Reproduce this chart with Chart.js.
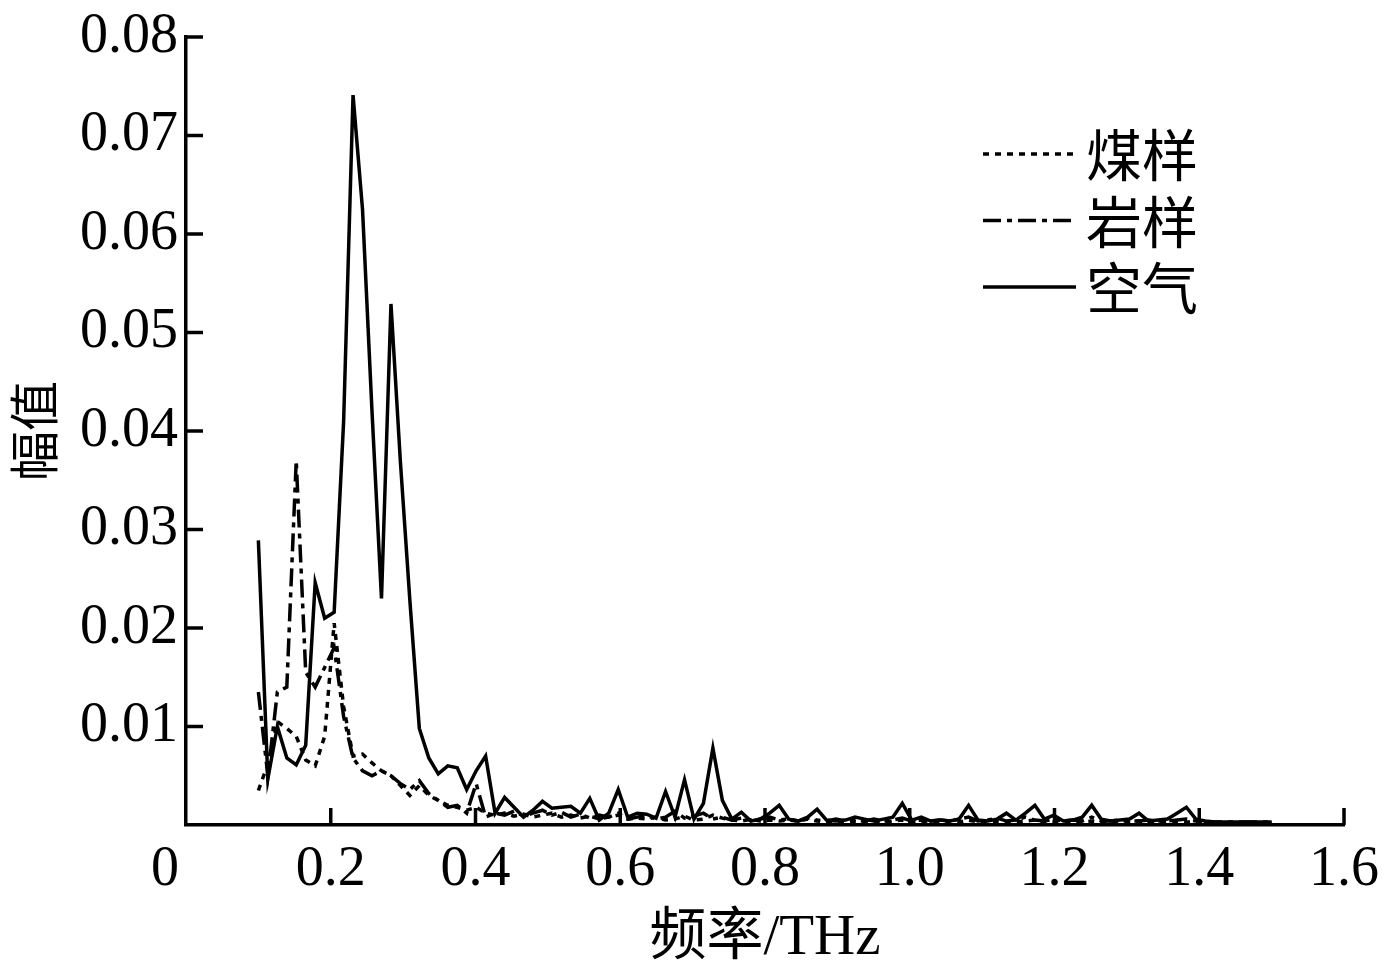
<!DOCTYPE html>
<html>
<head>
<meta charset="utf-8">
<script src="https://cdn.jsdelivr.net/npm/chart.js@4"></script>
<style>
html,body{margin:0;padding:0;background:#fff;}
#wrap{width:1384px;height:975px;}
</style>
</head>
<body>
<div id="wrap"><canvas id="c" width="1384" height="975"></canvas></div>
<script>
// Frequency (THz)
const freq = [0.1000,0.1131,0.1262,0.1393,0.1523,0.1654,0.1785,0.1916,0.2047,0.2178,
0.2308,0.2439,0.2570,0.2701,0.2832,0.2963,0.3093,0.3224,0.3355,0.3486,
0.3617,0.3748,0.3878,0.4009,0.4140,0.4271,0.4402,0.4533,0.4664,0.4794,
0.4925,0.5056,0.5187,0.5318,0.5449,0.5579,0.5710,0.5841,0.5972,0.6103,
0.6234,0.6364,0.6495,0.6626,0.6757,0.6888,0.7019,0.7149,0.7280,0.7411,
0.7542,0.7673,0.7804,0.7935,0.8065,0.8196,0.8327,0.8458,0.8589,0.8720,
0.8850,0.8981,0.9112,0.9243,0.9374,0.9505,0.9636,0.9766,0.9897,1.0028,
1.0159,1.0290,1.0421,1.0551,1.0682,1.0813,1.0944,1.1075,1.1206,1.1336,
1.1467,1.1598,1.1729,1.1860,1.1991,1.2121,1.2252,1.2383,1.2514,1.2645,
1.2776,1.2907,1.3037,1.3168,1.3299,1.3430,1.3561,1.3692,1.3822,1.3953,
1.4084,1.4215,1.4346,1.4477,1.4607,1.4738,1.4869,1.5000];

// 煤样 (coal sample)
const coal = [0.0035,0.0062,0.0105,0.0098,0.0090,0.0066,0.0060,0.0090,0.0205,0.0120,
0.0070,0.0072,0.0063,0.0055,0.0050,0.0040,0.0030,0.0040,0.0030,0.0025,
0.0020,0.0018,0.0015,0.0018,0.0012,0.0010,0.0012,0.0009,0.0011,0.0008,
0.0010,0.0012,0.0008,0.0010,0.0007,0.0009,0.0006,0.0008,0.0010,0.0006,
0.0007,0.0006,0.0008,0.0005,0.0006,0.0009,0.0005,0.0006,0.0010,0.0007,
0.0005,0.0004,0.0006,0.0004,0.0005,0.0004,0.0005,0.0004,0.0006,0.0004,
0.0003,0.0004,0.0003,0.0004,0.0003,0.0004,0.0003,0.0004,0.0005,0.0003,
0.0004,0.0003,0.0003,0.0004,0.0003,0.0005,0.0003,0.0003,0.0004,0.0003,
0.0003,0.0004,0.0005,0.0003,0.0003,0.0003,0.0004,0.0003,0.0004,0.0003,
0.0003,0.0003,0.0003,0.0004,0.0003,0.0003,0.0003,0.0004,0.0003,0.0003,
0.0003,0.0002,0.0002,0.0002,0.0002,0.0002,0.0002,0.0002];

// 岩样 (rock sample)
const rock = [0.0135,0.0050,0.0135,0.0140,0.0370,0.0155,0.0140,0.0160,0.0180,0.0110,
0.0068,0.0055,0.0050,0.0055,0.0050,0.0042,0.0036,0.0045,0.0032,0.0025,
0.0018,0.0020,0.0012,0.0042,0.0008,0.0012,0.0010,0.0014,0.0009,0.0012,
0.0015,0.0010,0.0013,0.0008,0.0011,0.0007,0.0010,0.0008,0.0012,0.0006,
0.0008,0.0010,0.0006,0.0008,0.0014,0.0007,0.0009,0.0012,0.0006,0.0008,
0.0005,0.0007,0.0005,0.0006,0.0008,0.0005,0.0006,0.0004,0.0007,0.0005,
0.0004,0.0006,0.0004,0.0005,0.0004,0.0006,0.0004,0.0005,0.0007,0.0004,
0.0005,0.0004,0.0005,0.0004,0.0006,0.0008,0.0004,0.0005,0.0007,0.0004,
0.0005,0.0008,0.0005,0.0004,0.0006,0.0004,0.0005,0.0004,0.0008,0.0004,
0.0004,0.0005,0.0004,0.0004,0.0005,0.0004,0.0004,0.0005,0.0006,0.0004,
0.0003,0.0003,0.0003,0.0003,0.0003,0.0003,0.0003,0.0003];

// 空气 (air)
const air = [0.0289,0.0047,0.0100,0.0068,0.0061,0.0081,0.0246,0.0210,0.0216,0.0410,
0.0741,0.0625,0.0420,0.0230,0.0529,0.0368,0.0228,0.0098,0.0068,0.0052,
0.0060,0.0058,0.0036,0.0055,0.0070,0.0012,0.0028,0.0018,0.0008,0.0015,
0.0024,0.0017,0.0018,0.0019,0.0012,0.0027,0.0005,0.0012,0.0036,0.0008,
0.0012,0.0011,0.0007,0.0034,0.0008,0.0046,0.0006,0.0022,0.0078,0.0025,
0.0006,0.0013,0.0004,0.0006,0.0012,0.0020,0.0006,0.0004,0.0008,0.0016,
0.0005,0.0004,0.0005,0.0008,0.0006,0.0004,0.0006,0.0008,0.0022,0.0005,
0.0008,0.0004,0.0005,0.0004,0.0006,0.0020,0.0005,0.0004,0.0006,0.0012,
0.0005,0.0012,0.0020,0.0006,0.0010,0.0004,0.0005,0.0008,0.0020,0.0006,
0.0004,0.0005,0.0006,0.0012,0.0004,0.0005,0.0006,0.0012,0.0018,0.0006,
0.0004,0.0003,0.0003,0.0003,0.0003,0.0003,0.0003,0.0003];

const seriesNames = ['煤样', '岩样', '空气'];
const xTitle = '频率/THz';
const yTitle = '幅值';

const SERIF = '"Liberation Serif", "Noto Sans CJK SC", serif';
const CJK = '"Noto Sans CJK SC", sans-serif';
const LW = 3.5;

function pairs(vals){ return freq.map((f,i)=>({x:f, y:vals[i]})); }

const inwardTicks = {
  id: 'inwardTicks',
  afterDraw(chart){
    const ctx = chart.ctx, xs = chart.scales.x, ys = chart.scales.y;
    const ca = chart.chartArea;
    ctx.save();
    ctx.strokeStyle = '#000';
    ctx.lineWidth = LW;
    ctx.setLineDash([]);
    xs.ticks.forEach(t=>{
      if (Math.abs(t.value) < 1e-9) return;
      const px = xs.getPixelForValue(t.value);
      ctx.beginPath(); ctx.moveTo(px, ca.bottom); ctx.lineTo(px, ca.bottom - 17); ctx.stroke();
    });
    ys.ticks.forEach(t=>{
      if (Math.abs(t.value) < 1e-9) return;
      const py = ys.getPixelForValue(t.value);
      ctx.beginPath(); ctx.moveTo(ca.left, py); ctx.lineTo(ca.left + 17, py); ctx.stroke();
    });
    ctx.restore();
  }
};

const lineLegend = {
  id: 'lineLegend',
  afterDraw(chart){
    const ctx = chart.ctx;
    ctx.save();
    chart.data.datasets.forEach((ds,i)=>{
      const y = 154 + i*66.5;
      ctx.strokeStyle = ds.borderColor;
      ctx.lineWidth = ds.borderWidth;
      ctx.setLineDash(ds.borderDash || []);
      ctx.beginPath(); ctx.moveTo(983, y); ctx.lineTo(1076, y); ctx.stroke();
      ctx.setLineDash([]);
      ctx.fillStyle = '#000';
      ctx.font = '56px ' + CJK;
      ctx.textBaseline = 'middle';
      ctx.textAlign = 'left';
      ctx.fillText(ds.label, 1086, y + 1);
    });
    ctx.restore();
  }
};

new Chart(document.getElementById('c'), {
  type: 'line',
  data: {
    datasets: [
      {label: seriesNames[0], data: pairs(coal), borderColor:'#000', borderWidth:LW, borderDash:[6,6], pointRadius:0, tension:0, fill:false},
      {label: seriesNames[1], data: pairs(rock), borderColor:'#000', borderWidth:LW, borderDash:[18,6,5,6], pointRadius:0, tension:0, fill:false},
      {label: seriesNames[2], data: pairs(air), borderColor:'#000', borderWidth:LW, borderDash:[], pointRadius:0, tension:0, fill:false}
    ]
  },
  options: {
    responsive: false,
    animation: false,
    layout: {padding: {left: 0, right: 40, top: 37, bottom: 0}},
    plugins: {legend: {display:false}, tooltip: {enabled:false}},
    scales: {
      x: {
        type: 'linear', min: 0, max: 1.6,
        grid: {display: false, drawTicks: false},
        border: {display: true, color: '#000', width: LW},
        ticks: {
          stepSize: 0.2, autoSkip: false, maxRotation: 0, padding: 12,
          color: '#000', font: {family: SERIF, size: 56},
          callback: v => Math.abs(v) < 1e-9 ? '0   ' : v.toFixed(1)
        },
        title: {display: true, text: xTitle, color: '#000', font: {family: SERIF, size: 57, lineHeight: 1.2}, padding: {top: 2, bottom: 2}},
        afterFit: s => { s.height = 150; s.paddingLeft = 0; s.paddingRight = 0; }
      },
      y: {
        type: 'linear', min: 0, max: 0.08,
        grid: {display: false, drawTicks: false},
        border: {display: true, color: '#000', width: LW},
        ticks: {
          stepSize: 0.01, autoSkip: false, padding: 8,
          color: '#000', font: {family: SERIF, size: 56},
          callback: v => Math.abs(v) < 1e-9 ? '' : v.toFixed(2)
        },
        title: {display: true, text: yTitle, color: '#000', font: {family: CJK, size: 50, lineHeight: 1.2}, padding: {top: 4, bottom: 4}},
        afterFit: s => { s.width = 186; s.paddingTop = 0; s.paddingBottom = 0; }
      }
    }
  },
  plugins: [inwardTicks, lineLegend]
});
</script>
</body>
</html>
